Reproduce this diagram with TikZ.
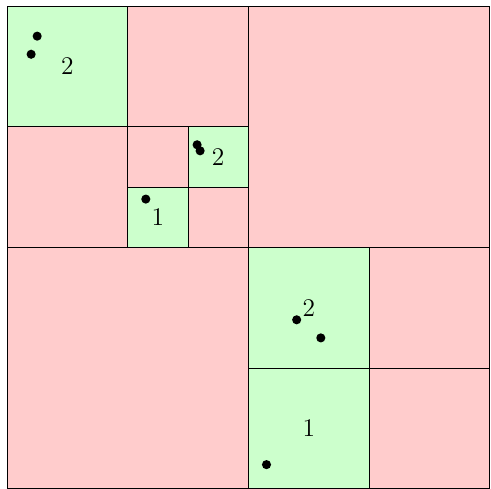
\documentclass[tikz,border=0pt]{standalone}
\usepackage{xcolor}
\usepackage{tikz}
\usetikzlibrary{positioning}

\begin{document}
\begin{tikzpicture}[
  font=\large,
  cell/.style={draw, line width=0.4pt},
  emptycell/.style={cell, fill=red!20},
  fullcell/.style={cell, fill=green!20},
  pt/.style={circle, fill=black, inner sep=0pt, minimum size=4.3pt},
  cnt/.style={inner sep=1pt}
]
\useasboundingbox (-0.116,0.012) rectangle (8.020,8.099);

% empty leaves
\foreach \xa/\ya/\xb/\yb in {2/6/4/8, 0/4/2/6, 2/5/3/6, 3/4/4/5,
                             4/4/8/8, 0/0/4/4, 6/2/8/4, 6/0/8/2}
  \draw[emptycell] (\xa,\ya) rectangle (\xb,\yb);

% occupied leaves
\foreach \xa/\ya/\xb/\yb in {0/6/2/8, 3/5/4/6, 2/4/3/5, 4/2/6/4, 4/0/6/2}
  \draw[fullcell] (\xa,\ya) rectangle (\xb,\yb);

% points
\node[pt] (p1) at (0.50,7.50) {};
\node[pt] (p2) at (0.40,7.20) {};
\node[pt] (p3) at (3.15,5.70) {};
\node[pt] (p4) at (3.20,5.60) {};
\node[pt] (p5) at (2.30,4.80) {};
\node[pt] (p6) at (4.80,2.80) {};
\node[pt] (p7) at (5.20,2.50) {};
\node[pt] (p8) at (4.30,0.40) {};

% counts
\node[cnt] (c1) at (1,7)     {2};
\node[cnt] (c2) at (3.5,5.5) {2};
\node[cnt] (c3) at (2.5,4.5) {1};
\node[cnt] (c4) at (5,3)     {2};
\node[cnt] (c5) at (5,1)     {1};

\end{tikzpicture}
\end{document}
